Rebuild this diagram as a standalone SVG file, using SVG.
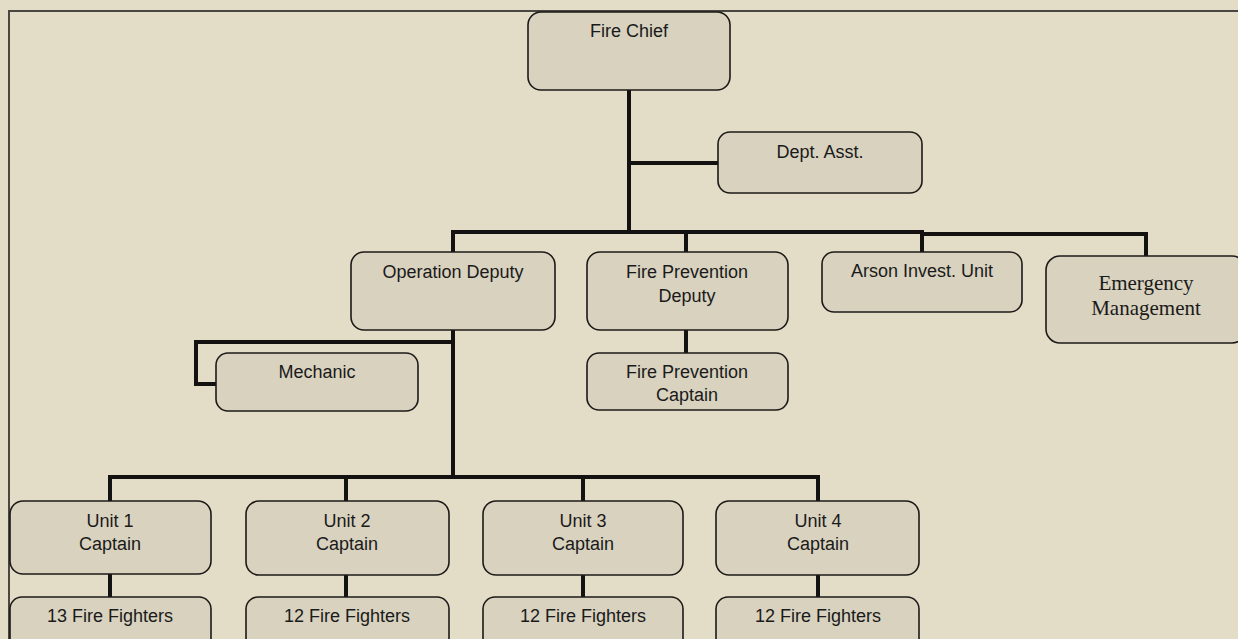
<svg xmlns="http://www.w3.org/2000/svg" width="1238" height="639" viewBox="0 0 1238 639">
<style>
.bg{fill:#e3dcc6}
.frame{stroke:#4a4642;stroke-width:2;fill:none}
.box{fill:#d8d2bf;stroke:#1c1a18;stroke-width:1.6}
.t{font-family:"Liberation Sans",Arial,sans-serif;font-size:18px;fill:#1a1a1a;text-anchor:middle}
.s{font-family:"Liberation Serif","Times New Roman",serif;font-size:21px;fill:#1a1a1a;text-anchor:middle}
.c{stroke:#141210;stroke-width:4;fill:none;stroke-linecap:square;stroke-linejoin:miter}
</style>
<rect class="bg" x="0" y="0" width="1238" height="639"/>
<path class="frame" d="M9,639 V11 H1238"/>
<g id="connectors">
<path class="c" d="M629,90 V232"/>
<path class="c" d="M629,163 H718"/>
<path class="c" d="M453,252 V232 H922"/>
<path class="c" d="M686,232 V252"/>
<path class="c" d="M922,252 V234 H1146 V256"/>
<path class="c" d="M453,330 V477"/>
<path class="c" d="M453,342 H196 V384 H216"/>
<path class="c" d="M686,330 V353"/>
<path class="c" d="M110,501 V477 H818 V500"/>
<path class="c" d="M346,477 V500"/>
<path class="c" d="M583,477 V500"/>
<path class="c" d="M110,574 V597"/>
<path class="c" d="M346,575 V597"/>
<path class="c" d="M583,575 V597"/>
<path class="c" d="M818,575 V597"/>
</g>
<g id="fire-chief"><rect class="box" x="528" y="12" width="202" height="78" rx="13"/><text class="t" x="629" y="37">Fire Chief</text></g>
<g id="dept-asst"><rect class="box" x="718" y="132" width="204" height="61" rx="12"/><text class="t" x="820" y="158">Dept. Asst.</text></g>
<g id="operation-deputy"><rect class="box" x="351" y="252" width="204" height="78" rx="13"/><text class="t" x="453" y="278">Operation Deputy</text></g>
<g id="fire-prevention-deputy"><rect class="box" x="587" y="252" width="201" height="78" rx="13"/><text class="t" x="687" y="278">Fire Prevention</text><text class="t" x="687" y="302">Deputy</text></g>
<g id="arson-invest-unit"><rect class="box" x="822" y="252" width="200" height="60" rx="12"/><text class="t" x="922" y="277">Arson Invest. Unit</text></g>
<g id="emergency-management"><rect class="box" x="1046" y="256" width="200" height="87" rx="14"/><text class="s" x="1146" y="290">Emergency</text><text class="s" x="1146" y="315">Management</text></g>
<g id="mechanic"><rect class="box" x="216" y="353" width="202" height="58" rx="12"/><text class="t" x="317" y="378">Mechanic</text></g>
<g id="fire-prevention-captain"><rect class="box" x="587" y="353" width="201" height="57" rx="12"/><text class="t" x="687" y="378">Fire Prevention</text><text class="t" x="687" y="401">Captain</text></g>
<g id="unit1-captain"><rect class="box" x="10" y="501" width="201" height="73" rx="13"/><text class="t" x="110" y="527">Unit 1</text><text class="t" x="110" y="550">Captain</text></g>
<g id="unit2-captain"><rect class="box" x="246" y="501" width="203" height="74" rx="13"/><text class="t" x="347" y="527">Unit 2</text><text class="t" x="347" y="550">Captain</text></g>
<g id="unit3-captain"><rect class="box" x="483" y="501" width="200" height="74" rx="13"/><text class="t" x="583" y="527">Unit 3</text><text class="t" x="583" y="550">Captain</text></g>
<g id="unit4-captain"><rect class="box" x="716" y="501" width="203" height="74" rx="13"/><text class="t" x="818" y="527">Unit 4</text><text class="t" x="818" y="550">Captain</text></g>
<g id="unit1-ff"><rect class="box" x="10" y="597" width="201" height="60" rx="12"/><text class="t" x="110" y="622">13 Fire Fighters</text></g>
<g id="unit2-ff"><rect class="box" x="246" y="597" width="203" height="60" rx="12"/><text class="t" x="347" y="622">12 Fire Fighters</text></g>
<g id="unit3-ff"><rect class="box" x="483" y="597" width="200" height="60" rx="12"/><text class="t" x="583" y="622">12 Fire Fighters</text></g>
<g id="unit4-ff"><rect class="box" x="716" y="597" width="203" height="60" rx="12"/><text class="t" x="818" y="622">12 Fire Fighters</text></g>
</svg>
